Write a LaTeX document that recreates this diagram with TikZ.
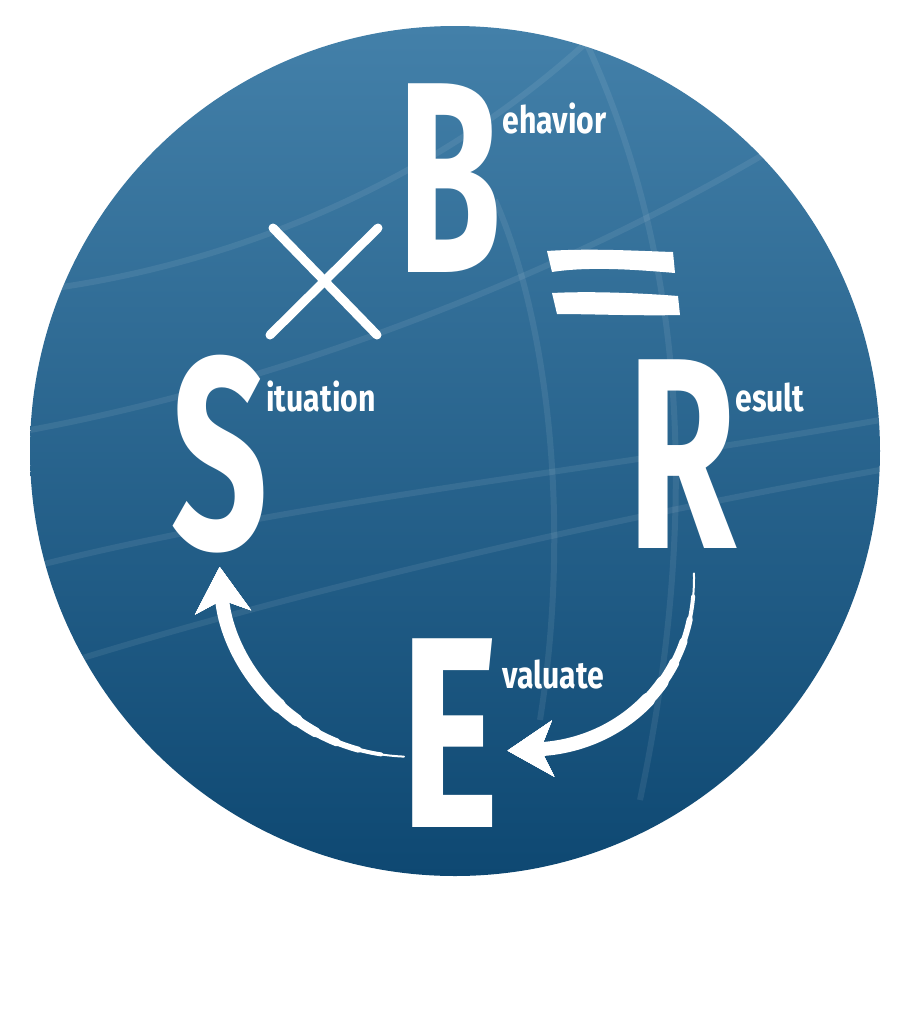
\documentclass[tikz,border=0pt]{standalone}
\usepackage{fontspec}
\newfontfamily\dinbold{Fira Sans Bold}[FakeStretch=0.62]
\newfontfamily\dinmid{Fira Sans Bold}[FakeStretch=0.65]
\newfontfamily\dinwide{Fira Sans Bold}[FakeStretch=0.69]
\newfontfamily\dinword{Fira Sans Bold}[FakeStretch=0.8]
\usetikzlibrary{arrows.meta}
\definecolor{globetop}{HTML}{4380A9}
\definecolor{globemid}{HTML}{1D5E8C}
\definecolor{globebot}{HTML}{0E4872}

\begin{document}
\begin{tikzpicture}[
  x=0.2mm, y=-0.2mm,
  letter/.style={inner sep=0pt, anchor=base west, text=white,
    font=\dinbold\fontsize{155}{155}\selectfont},
  midletter/.style={letter, font=\dinmid\fontsize{155}{155}\selectfont},
  wideletter/.style={letter, font=\dinwide\fontsize{155}{155}\selectfont},
  word/.style={inner sep=0pt, anchor=base west, text=white,
    font=\dinword\fontsize{21.5}{21.5}\selectfont},
  globeline/.style={draw=white, opacity=0.08, line width=1.2mm},
  crossbar/.style={draw=white, line width=1.8mm, line cap=round},
  cycle/.style={draw=white, line cap=round,
    -{Stealth[length=9mm, width=11mm, inset=2.4mm]}}
]
  \useasboundingbox (0,0) rectangle (906,1024);
  \fill[white] (0,0) rectangle (906,1024);

  \shade[top color=globetop, middle color=globemid, bottom color=globebot]
    (455,451) circle (425);
  \begin{scope}
    \clip (455,451) circle (425);
    \draw[globeline] (40,290) .. controls (200,270) and (420,200) .. (600,30);
    \draw[globeline] (30,430) .. controls (300,380) and (600,260) .. (820,120);
    \draw[globeline] (40,565) .. controls (300,500) and (600,470) .. (880,420);
    \draw[globeline] (60,665) .. controls (300,590) and (600,520) .. (880,470);
    \draw[globeline] (585,40) .. controls (650,180) and (720,420) .. (640,800);
    \draw[globeline] (495,200) .. controls (540,300) and (575,500) .. (540,720);
  \end{scope}

  \node[letter] (B) at (397,272) {B};
  \node[letter] (S) at (171,548) {S};
  \node[midletter] (R) at (627,548) {R};
  \node[wideletter] (E) at (400,827) {E};

  \node[word] (behavior) at (502,133) {ehavior};
  \node[word] (situation) at (266,411) {ituation};
  \node[word] (result) at (735,411) {esult};
  \node[word] (evaluate) at (502,688) {valuate};

  \draw[crossbar] (273,228) -- (377,335);
  \draw[crossbar] (378,228) -- (270,335);

  \fill[white] (547,251) .. controls (590,248) and (640,251) .. (673,252)
    -- (675,273) .. controls (640,270) and (590,266) .. (552,272) -- cycle;
  \fill[white] (552,293) .. controls (590,291) and (640,293) .. (678,296)
    -- (680,315) .. controls (640,316) and (590,314) .. (557,314) -- cycle;

  \foreach \w in {1,...,7} {
    \pgfmathsetmacro\gap{(\w-1)*4.6+0.01}
    \draw[cycle, line width=\w*0.4mm,
      dash pattern=on 100cm off \gap mm, dash phase=100cm]
      ([shift={(12,25)}]R.south) .. controls +(2,107) and +(113,-5)
      .. ([shift={(8,18)}]E.east);
    \draw[cycle, line width=\w*0.4mm,
      dash pattern=on 100cm off \gap mm, dash phase=100cm]
      ([shift={(4,24)}]E.west) .. controls +(-115,-5) and +(7,93)
      .. ([shift={(0,14)}]S.south);
  }
\end{tikzpicture}
\end{document}
